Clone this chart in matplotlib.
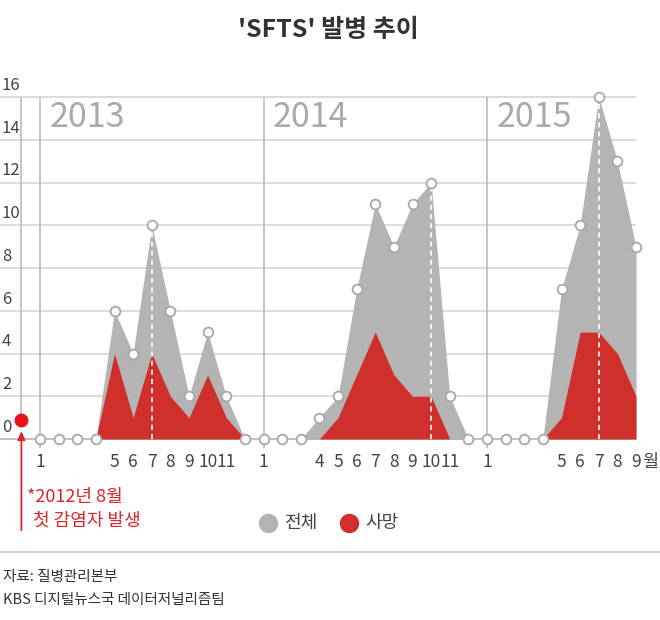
import matplotlib

matplotlib.use("Agg")
import matplotlib.pyplot as plt

plt.rcParams["font.family"] = ["Noto Sans CJK KR", "DejaVu Sans"]

# monthly counts, Jan 2013 .. Sep 2015
years = ["2013", "2014", "2015"]
total_2013 = [0, 0, 0, 0, 6, 4, 10, 6, 2, 5, 2, 0]
total_2014 = [0, 0, 0, 1, 2, 7, 11, 9, 11, 12, 2, 0]
total_2015 = [0, 0, 0, 0, 7, 10, 16, 13, 9]
death_2013 = [0, 0, 0, 0, 4, 1, 4, 2, 1, 3, 1, 0]
death_2014 = [0, 0, 0, 0, 1, 3, 5, 3, 2, 2, 0, 0]
death_2015 = [0, 0, 0, 0, 1, 5, 5, 4, 2]
month_labels_2013 = ["1", "", "", "", "5", "6", "7", "8", "9", "10", "11", ""]
month_labels_2014 = ["1", "", "", "4", "5", "6", "7", "8", "9", "10", "11", ""]
month_labels_2015 = ["1", "", "", "", "5", "6", "7", "8", "9"]
y_ticks = [0, 2, 4, 6, 8, 10, 12, 14, 16]

GRAY = "#b4b4b4"
RED = "#d0302c"
TEXT = "#444444"

total = total_2013 + total_2014 + total_2015
death = death_2013 + death_2014 + death_2015
labels = month_labels_2013 + month_labels_2014 + month_labels_2015
x = list(range(len(total)))
year_starts = [0, 12, 24]

W, H = 660, 620
fig = plt.figure(figsize=(W / 100, H / 100), dpi=100)

# main chart axes: month index 0 -> 40px, 32 -> 636px ; value 0 -> 439px, 16 -> 97px
px_month = (636 - 40) / 32
px_unit = (439 - 97) / 16
ax_top, ax_bot = 80, 480
ax = fig.add_axes([0, 1 - ax_bot / H, 1, (ax_bot - ax_top) / H])
ax.set_xlim(-40 / px_month, (W - 40) / px_month)
ax.set_ylim(-(ax_bot - 439) / px_unit, (439 - ax_top) / px_unit)
ax.axis("off")
ax.patch.set_alpha(0)

x_left = -40 / px_month
for v in y_ticks:
    color = "#c9b6b6" if v == 0 else "#d9d9d9"
    ax.hlines(v, x_left, x[-1], color=color, lw=1.3, zorder=1)
    ax.text(x_left + 0.1, v + 0.15, str(v), ha="left", va="bottom",
            fontsize=12, color=TEXT, fontweight="light")

for xs in year_starts:
    ax.vlines(xs, -0.4, 16, color="#bbbbbb", lw=1.2, zorder=1)
ax.vlines(-1, 0.9, 16, color="#bbbbbb", lw=1.2, zorder=1)

ax.fill_between(x, 0, total, color=GRAY, lw=0, zorder=2)
ax.fill_between(x, 0, death, color=RED, lw=0, zorder=3)

for i0 in year_starts:
    seg = total[i0:i0 + 12]
    peak = i0 + seg.index(max(seg))
    ax.vlines(peak, 0, total[peak], color="white", lw=1.2,
              linestyles=(0, (3, 2.5)), zorder=4)

ax.plot(x, total, ls="none", marker="o", ms=7, mfc="white", mec="#a8a8a8",
        mew=1.3, zorder=5)

for i, lab in enumerate(labels):
    if lab:
        ax.text(i, -1.08, lab, ha="center", va="center", fontsize=12.5,
                color=TEXT, fontweight="light")
ax.text(x[-1] + 0.32, -1.08, "월", ha="left", va="center", fontsize=12.5,
        color=TEXT, fontweight="light")

for xs, yr in zip(year_starts, years):
    ax.text(xs + 0.5, 15.05, yr, ha="left", va="center", fontsize=24.5,
            color="#aaaaaa", fontweight="light")

# first case marker (Aug 2012)
ax.plot([-1], [0.9], marker="o", ms=9, color="#e8141c", zorder=6, clip_on=False)
ax.annotate("", xy=(-1, 0.5), xytext=(-1, -4.4), annotation_clip=False,
            arrowprops=dict(arrowstyle="-|>,head_length=0.5,head_width=0.22",
                            color="#d9262b", lw=1.3))

# overlay in pixel coordinates for title, notes, legend, footer
deco = fig.add_axes([0, 0, 1, 1])
deco.set_xlim(0, W)
deco.set_ylim(H, 0)
deco.axis("off")
deco.patch.set_alpha(0)

deco.text(328, 30, "'SFTS' 발병 추이", ha="center", va="center", fontsize=18,
          fontweight="bold", color="#333333")

deco.text(27, 497, "*2012년 8월", ha="left", va="center", fontsize=13,
          color="#d9262b")
deco.text(33, 521, "첫 감염자 발생", ha="left", va="center", fontsize=13,
          color="#d9262b")

deco.plot([268], [523], marker="o", ms=13, color=GRAY)
deco.text(284, 523, "전체", ha="left", va="center", fontsize=13, color=TEXT)
deco.plot([349], [523], marker="o", ms=13, color=RED)
deco.text(365, 523, "사망", ha="left", va="center", fontsize=13, color=TEXT)

deco.hlines(552, 0, W, color="#cccccc", lw=1.2)
deco.text(3, 577, "자료: 질병관리본부", ha="left", va="center", fontsize=10.5,
          color="#333333")
deco.text(3, 600, "KBS 디지털뉴스국 데이터저널리즘팀", ha="left", va="center",
          fontsize=10.5, color="#333333")

fig.savefig("out.png", dpi=100)
plt.close(fig)
